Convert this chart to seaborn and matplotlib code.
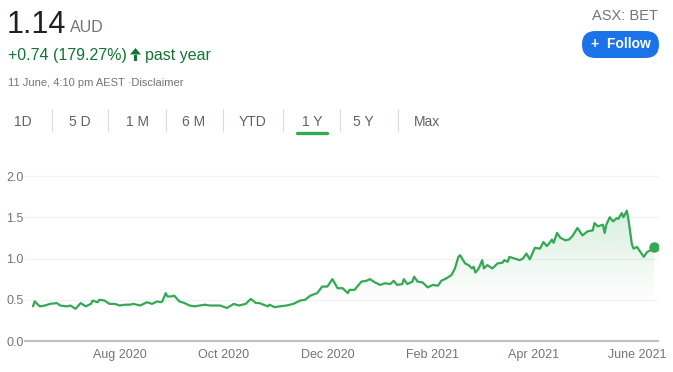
import numpy as np
import pandas as pd
import matplotlib
matplotlib.use("Agg")
import matplotlib.pyplot as plt
import matplotlib.dates as mdates
import seaborn as sns
from matplotlib.patches import FancyBboxPatch, Polygon, PathPatch
from matplotlib.lines import Line2D
from matplotlib.transforms import IdentityTransform

# ---------------- data ----------------
dates = [
    "2020-06-11", "2020-06-12", "2020-06-15", "2020-06-18", "2020-06-21", "2020-06-25", "2020-06-27",
    "2020-07-01", "2020-07-03", "2020-07-06", "2020-07-09", "2020-07-12", "2020-07-15", "2020-07-16",
    "2020-07-19", "2020-07-20", "2020-07-23", "2020-07-26", "2020-07-29", "2020-08-01", "2020-08-04",
    "2020-08-07", "2020-08-09", "2020-08-13", "2020-08-17", "2020-08-20", "2020-08-23", "2020-08-25",
    "2020-08-26", "2020-08-28", "2020-08-29", "2020-08-31", "2020-09-02", "2020-09-05", "2020-09-08",
    "2020-09-11", "2020-09-14", "2020-09-17", "2020-09-20", "2020-09-23", "2020-09-29", "2020-10-03",
    "2020-10-07", "2020-10-10", "2020-10-14", "2020-10-17", "2020-10-20", "2020-10-22", "2020-10-27",
    "2020-10-28", "2020-10-31", "2020-11-03", "2020-11-07", "2020-11-11", "2020-11-15", "2020-11-18",
    "2020-11-21", "2020-11-25", "2020-11-28", "2020-12-01", "2020-12-04", "2020-12-07", "2020-12-10",
    "2020-12-13", "2020-12-14", "2020-12-17", "2020-12-21", "2020-12-24", "2020-12-26", "2020-12-29",
    "2021-01-01", "2021-01-04", "2021-01-07", "2021-01-09", "2021-01-11", "2021-01-14", "2021-01-15",
    "2021-01-17", "2021-01-20", "2021-01-21", "2021-01-23", "2021-01-26", "2021-01-29", "2021-01-30",
    "2021-02-01", "2021-02-04", "2021-02-06", "2021-02-09", "2021-02-12", "2021-02-14", "2021-02-16",
    "2021-02-17", "2021-02-20", "2021-02-22", "2021-02-24", "2021-02-25", "2021-02-26", "2021-02-28",
    "2021-03-02", "2021-03-03", "2021-03-05", "2021-03-08", "2021-03-11", "2021-03-14", "2021-03-15",
    "2021-03-17", "2021-03-18", "2021-03-21", "2021-03-24", "2021-03-26", "2021-03-28", "2021-03-30",
    "2021-04-02", "2021-04-05", "2021-04-07", "2021-04-09", "2021-04-11", "2021-04-12", "2021-04-13",
    "2021-04-15", "2021-04-17", "2021-04-20", "2021-04-22", "2021-04-24", "2021-04-27", "2021-04-29",
    "2021-04-30", "2021-05-03", "2021-05-06", "2021-05-07", "2021-05-09", "2021-05-12", "2021-05-13",
    "2021-05-14", "2021-05-16", "2021-05-18", "2021-05-20", "2021-05-21", "2021-05-23", "2021-05-24",
    "2021-05-26", "2021-05-27", "2021-05-29", "2021-05-30", "2021-06-01", "2021-06-03", "2021-06-05",
    "2021-06-07", "2021-06-09", "2021-06-10", "2021-06-11",
]
prices = [
    0.42, 0.48, 0.42, 0.43, 0.45, 0.46, 0.43,
    0.42, 0.43, 0.39, 0.46, 0.42, 0.45, 0.49,
    0.47, 0.50, 0.49, 0.45, 0.45, 0.43, 0.44,
    0.44, 0.45, 0.43, 0.47, 0.45, 0.48, 0.47,
    0.48, 0.58, 0.54, 0.54, 0.55, 0.48, 0.46,
    0.43, 0.42, 0.43, 0.44, 0.43, 0.43, 0.40,
    0.45, 0.43, 0.45, 0.51, 0.46, 0.46, 0.42,
    0.44, 0.41, 0.42, 0.43, 0.45, 0.49, 0.50,
    0.55, 0.58, 0.66, 0.66, 0.75, 0.64, 0.64,
    0.58, 0.62, 0.62, 0.72, 0.73, 0.75, 0.71,
    0.68, 0.70, 0.69, 0.73, 0.68, 0.69, 0.75,
    0.69, 0.72, 0.78, 0.72, 0.71, 0.65, 0.66,
    0.68, 0.67, 0.73, 0.76, 0.80, 0.88, 1.02,
    1.04, 0.94, 0.92, 0.88, 0.90, 0.83, 0.88,
    0.98, 0.88, 0.92, 0.88, 0.94, 0.95, 0.98,
    0.96, 1.02, 1.00, 0.98, 1.00, 1.06, 0.99,
    1.13, 1.12, 1.20, 1.15, 1.20, 1.23, 1.19,
    1.31, 1.25, 1.22, 1.23, 1.27, 1.37, 1.31,
    1.28, 1.33, 1.34, 1.43, 1.39, 1.41, 1.31,
    1.41, 1.50, 1.45, 1.49, 1.48, 1.55, 1.50,
    1.58, 1.47, 1.17, 1.12, 1.14, 1.08, 1.02,
    1.08, 1.10, 1.17, 1.14,
]
xtick_dates = ["2020-08-01", "2020-10-01", "2020-12-01", "2021-02-01", "2021-04-01", "2021-06-01"]
xtick_labels = ["Aug 2020", "Oct 2020", "Dec 2020", "Feb 2021", "Apr 2021", "June 2021"]
ytick_values = [0.0, 0.5, 1.0, 1.5, 2.0]
tabs = ["1D", "5 D", "1 M", "6 M", "YTD", "1 Y", "5 Y", "Max"]
selected_tab = "1 Y"

price_text = "1.14"
currency_text = "AUD"
change_text = "+0.74 (179.27%)"
period_text = "past year"
date_text = "11 June, 4:10 pm AEST \u00b7Disclaimer"
ticker_text = "ASX: BET"

# ---------------- style ----------------
W, H = 673, 372
sns.set_style("white")
plt.rcParams['font.family'] = ['Liberation Sans', 'DejaVu Sans']

GREEN = "#34a853"
TEXT_GREEN = "#137333"
GRAY = "#70757a"
DARK = "#202124"

fig = plt.figure(figsize=(W / 100, H / 100), dpi=100)
fig.patch.set_facecolor("white")


def fx(x):
    return x / W


def fy(y):
    return 1 - y / H


PIX = IdentityTransform()

# ---------------- header ----------------
fig.text(fx(7), fy(33), price_text, fontsize=22, color=DARK, va="baseline", ha="left")
fig.text(fx(70), fy(32), currency_text, fontsize=11.5, color=GRAY, va="baseline", ha="left")
fig.text(fx(8), fy(60), change_text, fontsize=11.5, color=TEXT_GREEN, va="baseline", ha="left")
# up arrow
fig.add_artist(Polygon([[130, H - 54.5], [141, H - 54.5], [135.5, H - 48]], closed=True,
                       facecolor=TEXT_GREEN, edgecolor="none", transform=PIX))
fig.add_artist(Polygon([[134.2, H - 54.5], [136.8, H - 54.5], [136.8, H - 60.5], [134.2, H - 60.5]],
                       closed=True, facecolor=TEXT_GREEN, edgecolor="none", transform=PIX))
fig.text(fx(145), fy(60), period_text, fontsize=11.5, color=TEXT_GREEN, va="baseline", ha="left")
fig.text(fx(8), fy(86), date_text, fontsize=8, color=GRAY, va="baseline", ha="left")

fig.text(fx(658), fy(20), ticker_text, fontsize=10.5, color=GRAY, va="baseline", ha="right")
fig.add_artist(FancyBboxPatch((582, H - 58), 77, 27, boxstyle="round,pad=0,rounding_size=13.5",
                              facecolor="#1a73e8", edgecolor="none", transform=PIX))
fig.text(fx(620.5), fy(44.5), "+  Follow", fontsize=10, color="white", va="center", ha="center",
         fontweight="bold")

# ---------------- tabs ----------------
tab_x = [23, 80, 137, 194, 253, 312, 363, 427]
sep_x = [52, 108, 166, 223, 283, 340, 398]
for t, x in zip(tabs, tab_x):
    fig.text(fx(x), fy(126), t, fontsize=10, color="#5f6368", va="baseline", ha="center")
for x in sep_x:
    fig.add_artist(Line2D([x, x], [H - 109, H - 131], color="#dadce0", lw=0.8, transform=PIX))
sel_x = tab_x[tabs.index(selected_tab)]
fig.add_artist(Line2D([sel_x - 15, sel_x + 15], [H - 132.5, H - 132.5], color=GREEN, lw=2.4,
                      solid_capstyle="round", transform=PIX))

# ---------------- chart ----------------
df = pd.DataFrame({"date": pd.to_datetime(dates), "price": prices})

ymax = 2.05
ax_left, ax_right, ax_bottom = 25, 658, 341
px_per_unit = 82.5
ax_top = ax_bottom - ymax * px_per_unit
ax = fig.add_axes([ax_left / W, (H - ax_bottom) / H, (ax_right - ax_left) / W, (ax_bottom - ax_top) / H])
ax.set_facecolor("white")

sns.lineplot(data=df, x="date", y="price", ax=ax, color=GREEN, linewidth=1.6, zorder=3)

# gradient fill under the line
xn = mdates.date2num(df["date"])
fb = ax.fill_between(df["date"], df["price"], 0, color="none", lw=0)
path = fb.get_paths()[0]
clip = PathPatch(path, transform=ax.transData, facecolor="none", edgecolor="none")
ax.add_patch(clip)
yy = np.linspace(0, 1.6, 256)
grad = np.zeros((256, 1, 4))
grad[..., 0] = 0x34 / 255
grad[..., 1] = 0xa8 / 255
grad[..., 2] = 0x53 / 255
grad[:, 0, 3] = np.clip((yy - 0.45) / (1.6 - 0.45), 0, 1) ** 1.1 * 0.2
im = ax.imshow(grad, extent=[xn[0], xn[-1], 0, 1.6], origin="lower", aspect="auto", zorder=1,
               interpolation="bilinear")
im.set_clip_path(clip)

# end marker
ax.plot([df["date"].iloc[-1]], [df["price"].iloc[-1]], "o", color=GREEN, markersize=6.5, zorder=4)

# limits
x0 = xn[0] - 8 / 1.701
x1 = xn[-1] + 4 / 1.701
ax.set_xlim(x0, x1)
ax.set_ylim(0, ymax)
ax.set_aspect("auto")

ax.set_xticks(mdates.date2num(pd.to_datetime(xtick_dates)))
ax.set_xticklabels(xtick_labels)
ax.set_yticks(ytick_values)
ax.set_yticklabels([f"{v:.1f}" for v in ytick_values])
ax.set_xlabel("")
ax.set_ylabel("")

ax.grid(axis="y", color="#f1f3f4", lw=1, zorder=0)
ax.grid(axis="x", visible=False)
ax.set_axisbelow(True)
for s in ["top", "right", "left"]:
    ax.spines[s].set_visible(False)
ax.spines["bottom"].set_color("#bdc1c6")
ax.spines["bottom"].set_linewidth(1.6)
ax.spines["bottom"].set_zorder(5)

ax.tick_params(axis="x", length=4.5, width=1, color="#bdc1c6", labelsize=9, labelcolor=GRAY, pad=1.5)
ax.tick_params(axis="y", length=0, labelsize=9, labelcolor=GRAY, pad=1)

fig.savefig("out.png", dpi=100, facecolor="white")
